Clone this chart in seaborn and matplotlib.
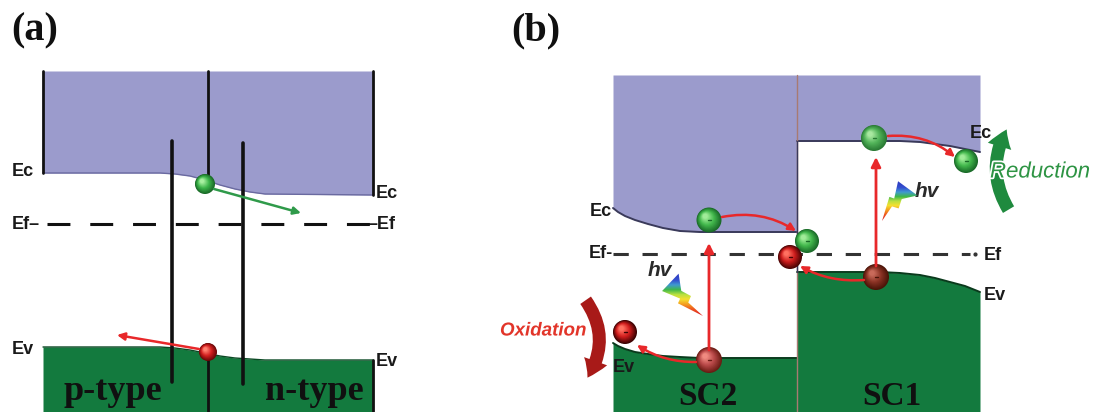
import numpy as np
import matplotlib
matplotlib.use("Agg")
import matplotlib.pyplot as plt
import matplotlib.patheffects as pe
import seaborn as sns
from matplotlib.patches import Circle, Polygon, FancyArrowPatch
from matplotlib.colors import to_rgb

# ---------------- band-edge profiles (pixel space, y grows downward) ----------
# panel (a): p-n homojunction
a_x = [43, 160, 175, 190, 205, 220, 235, 250, 265, 373]
a_ec = [173, 173, 174, 176, 180, 185, 189, 192, 194, 195]
a_ev = [347, 347, 348, 350, 353, 356, 358, 359, 360, 360]
a_top = 71
a_ef = 224

# panel (b): SC2 / SC1 heterojunction
sc2_x = [613, 618, 625, 635, 648, 663, 680, 700, 797]
sc2_ec = [208, 212, 216, 220, 224, 228, 231, 232, 232]
sc2_ev = [343, 346, 349, 352, 354, 356, 357, 358, 358]
sc1_x = [797, 880, 900, 920, 935, 950, 965, 980]
sc1_ec = [141, 141, 141, 142, 144, 146, 149, 152]
sc1_ev = [272, 272, 273, 275, 278, 282, 286, 292]
b_top = 75
b_ef = 254

panel_labels = ["(a)", "(b)"]
region_labels_a = ["p-type", "n-type"]
region_labels_b = ["SC2", "SC1"]

PURPLE = "#9b9bcc"
GREEN = "#137a3e"
ARROW_RED = "#e8282a"

sns.set_theme(style="white")
plt.rcParams["font.family"] = ["Liberation Sans", "DejaVu Sans"]

fig = plt.figure(figsize=(11, 4.12), dpi=100)
ax = fig.add_axes([0, 0, 1, 1])
ax.set_xlim(0, 1100)
ax.set_ylim(412, 0)
ax.axis("off")


def ball(x, y, r, base, light, dark, z=8, minus=True):
    base, light, dark = map(np.array, map(to_rgb, (base, light, dark)))
    n = 14
    for i in range(n):
        f = i / (n - 1)
        rr = r * (1 - 0.8 * f)
        cx = x - 0.3 * r * f
        cy = y - 0.3 * r * f
        if f < 0.5:
            c = dark + (base - dark) * (f / 0.5)
        else:
            c = base + (light - base) * ((f - 0.5) / 0.5)
        ax.add_patch(Circle((cx, cy), rr, color=np.clip(c, 0, 1), lw=0, zorder=z))
    if minus:
        ax.plot([x - 1.5, x + 1.5], [y, y], color=dark, lw=1, zorder=z + 0.5)


def bolt(x0, y0, x1, y1, width):
    p0 = np.array([x0, y0], float)
    d = np.array([x1 - x0, y1 - y0], float)
    perp = np.array([-d[1], d[0]]) / np.linalg.norm(d) * width
    shape = [(-0.5, 0.0), (0.5, 0.02), (0.18, 0.40), (0.38, 0.44),
             (0.0, 1.0), (0.05, 0.58), (-0.22, 0.52), (-0.08, 0.30)]
    pts = [p0 + v * d + u * perp for u, v in shape]
    poly = Polygon(pts, closed=True, facecolor="none", edgecolor="none")
    ax.add_patch(poly)
    cols = np.array([to_rgb(c) for c in
                     ["#2f3fc4", "#3550d0", "#3f9ad0", "#3fb84a", "#b8e040",
                      "#f5e030", "#f4a020", "#ee5a20", "#e02a20"]])
    img = cols[:, None, :]
    xs = [p[0] for p in pts]
    ys = [p[1] for p in pts]
    im = ax.imshow(img, extent=[min(xs), max(xs), max(ys), min(ys)],
                   aspect="auto", interpolation="bilinear", zorder=7)
    im.set_clip_path(poly)


def straight_arrow(x0, y0, x1, y1, color, lw=2.0, rad=0.0, ms=12):
    ax.annotate("", xy=(x1, y1), xytext=(x0, y0),
                arrowprops=dict(arrowstyle="-|>", color=color, lw=lw,
                                mutation_scale=ms, shrinkA=0, shrinkB=0,
                                connectionstyle=f"arc3,rad={rad}"),
                zorder=9)


# ================= panel (a) =================
ax.fill_between(a_x, a_top, a_ec, color=PURPLE, lw=0, zorder=1)
ax.fill_between(a_x, a_ev, 412, color=GREEN, lw=0, zorder=1)
sns.lineplot(x=a_x, y=a_ec, ax=ax, color="#6a6aa0", lw=1.0, zorder=2,
             sort=False, estimator=None)
sns.lineplot(x=a_x, y=a_ev, ax=ax, color="#0b4a24", lw=1.0, zorder=2,
             sort=False, estimator=None)

# boundary and junction lines
ax.plot([43, 43], [a_top, a_ec[0]], color="#111", lw=2.0, zorder=3)
ax.plot([373, 373], [a_top, a_ec[-1]], color="#111", lw=2.0, zorder=3)
ax.plot([373, 373], [a_ev[-1], 412], color="#111", lw=2.0, zorder=3)
ax.plot([208, 208], [a_top, 176], color="#111", lw=2.0, zorder=3)
ax.plot([208, 208], [356, 412], color="#111", lw=2.0, zorder=3)
ax.plot([172, 172], [141, 382], color="#111", lw=2.6, zorder=3)
ax.plot([243, 243], [143, 384], color="#111", lw=2.6, zorder=3)

# Fermi level
ax.plot([47, 370], [a_ef, a_ef], color="#111", lw=2.2, ls=(0, (7.5, 6.5)),
        zorder=4)

lab = dict(fontsize=13, fontweight="bold", color="#1a1a1a", va="center")
ax.text(12, 171, "Ec", ha="left", **lab)
ax.text(376, 193, "Ec", ha="left", **lab)
ax.text(12, a_ef, "Ef–", ha="left", **lab)
ax.text(367, a_ef, "–Ef", ha="left", **lab)
ax.text(12, 350, "Ev", ha="left", **lab)
ax.text(376, 362, "Ev", ha="left", **lab)

straight_arrow(214, 189, 301, 213, "#2f9a4a", lw=1.8, ms=11)
straight_arrow(199, 349, 117, 335, ARROW_RED, lw=1.8, ms=11)
ball(205, 184, 10, "#3cb64a", "#a8f0a0", "#1a6a28", minus=False)
ball(208, 352, 9, "#d42020", "#ff8070", "#6a0808", minus=False)

serif = dict(family=["Liberation Serif", "DejaVu Serif"], fontweight="bold",
             color="#101010")
ax.text(63, 400, region_labels_a[0], fontsize=26, ha="left", va="baseline",
        zorder=10, **serif)
ax.text(265, 400, region_labels_a[1], fontsize=26, ha="left", va="baseline",
        zorder=10, **serif)
ax.text(11, 31, panel_labels[0], fontsize=29, ha="left", va="center", **serif)

# ================= panel (b) =================
ax.fill_between(sc2_x, b_top, sc2_ec, color=PURPLE, lw=0, zorder=1)
ax.fill_between(sc1_x, b_top, sc1_ec, color=PURPLE, lw=0, zorder=1)
ax.fill_between(sc2_x, sc2_ev, 412, color=GREEN, lw=0, zorder=1)
ax.fill_between(sc1_x, sc1_ev, 412, color=GREEN, lw=0, zorder=1)
for xs, ys, c in [(sc2_x, sc2_ec, "#3a3a5a"), (sc1_x, sc1_ec, "#3a3a5a"),
                  (sc2_x, sc2_ev, "#0a3a1c"), (sc1_x, sc1_ev, "#0a3a1c")]:
    sns.lineplot(x=xs, y=ys, ax=ax, color=c, lw=1.4, zorder=2, sort=False,
                 estimator=None)
ax.plot([797, 797], [b_top, 412], color="#a87a72", lw=1.0, zorder=2)
ax.plot([797, 797], [sc1_ec[0], sc1_ev[0]], color="#3a3a5a", lw=1.0, zorder=2)

ax.plot([613, 970], [b_ef, b_ef], color="#333", lw=2.2, ls=(0, (5, 4.5)),
        zorder=4)
ax.plot([975], [b_ef], marker="o", ms=2, color="#333", zorder=4)

ax.text(590, 211, "Ec", ha="left", **lab)
ax.text(589, b_ef, "Ef-", ha="left", **lab)
ax.text(970, 134, "Ec", ha="left", **lab)
ax.text(984, 256, "Ef", ha="left", **lab)
ax.text(984, 296, "Ev", ha="left", **lab)
ax.text(613, 367, "Ev", ha="left", **lab)

# excitation arrows and transfers
straight_arrow(709, 350, 709, 243, ARROW_RED, lw=2.0, ms=14)
straight_arrow(876, 266, 876, 157, ARROW_RED, lw=2.0, ms=14)
straight_arrow(722, 217, 796, 231, ARROW_RED, lw=1.8, rad=-0.2, ms=11)
straight_arrow(888, 136, 955, 157, ARROW_RED, lw=1.8, rad=-0.2, ms=11)
straight_arrow(864, 280, 800, 266, ARROW_RED, lw=1.8, rad=-0.15, ms=11)
straight_arrow(696, 362, 637, 345, ARROW_RED, lw=1.8, rad=-0.15, ms=11)

ball(709, 220, 12.5, "#42b84c", "#a0ec98", "#1a6a28")
ball(807, 241, 12, "#42b84c", "#a0ec98", "#1a6a28")
ball(790, 257, 12, "#cc1c1c", "#ff7060", "#4a0404")
ball(874, 138, 13, "#52b45a", "#a8e8a0", "#2a7a34")
ball(966, 161, 12, "#42b84c", "#a0ec98", "#1a6a28")
ball(876, 277, 13, "#8a3224", "#c86a5a", "#4a1408")
ball(709, 360, 13, "#b84848", "#f08a80", "#6a1c14")
ball(625, 332, 12, "#d01c1c", "#ff7060", "#3a0202")

# photons
bolt(670, 282, 703, 316, 24)
bolt(908, 188, 882, 221, 24)
hv = dict(fontsize=15, fontstyle="italic", fontweight="bold", color="#2a2a2a",
          va="center", ha="left")
ax.text(648, 270, "hv", **hv)
ax.text(915, 191, "hv", **hv)

# redox arrows
ax.add_patch(FancyArrowPatch((1010, 212), (1008, 127),
                             connectionstyle="arc3,rad=-0.3",
                             arrowstyle="simple,head_width=1.6,head_length=1.2,tail_width=0.85",
                             mutation_scale=11, color="#1f8a3e", lw=0,
                             zorder=6))
ax.add_patch(FancyArrowPatch((584, 298), (586, 380),
                             connectionstyle="arc3,rad=-0.35",
                             arrowstyle="simple,head_width=1.6,head_length=1.2,tail_width=0.85",
                             mutation_scale=11, color="#a81a18", lw=0,
                             zorder=6))
halo = [pe.withStroke(linewidth=2.5, foreground="white")]
ax.text(990, 172, "Reduction", fontsize=16, fontstyle="italic",
        color="#2e9444", va="center", ha="left", zorder=7, path_effects=halo)
ax.text(500, 331, "Oxidation", fontsize=13.5, fontstyle="italic",
        fontweight="bold", color="#e2352a", va="center", ha="left", zorder=7,
        path_effects=halo)

ax.text(678, 405, region_labels_b[0], fontsize=24, ha="left", va="baseline",
        zorder=10, **serif)
ax.text(862, 405, region_labels_b[1], fontsize=24, ha="left", va="baseline",
        zorder=10, **serif)
ax.text(511, 31, panel_labels[1], fontsize=29, ha="left", va="center", **serif)

fig.savefig("out.png", dpi=100, facecolor="white")
